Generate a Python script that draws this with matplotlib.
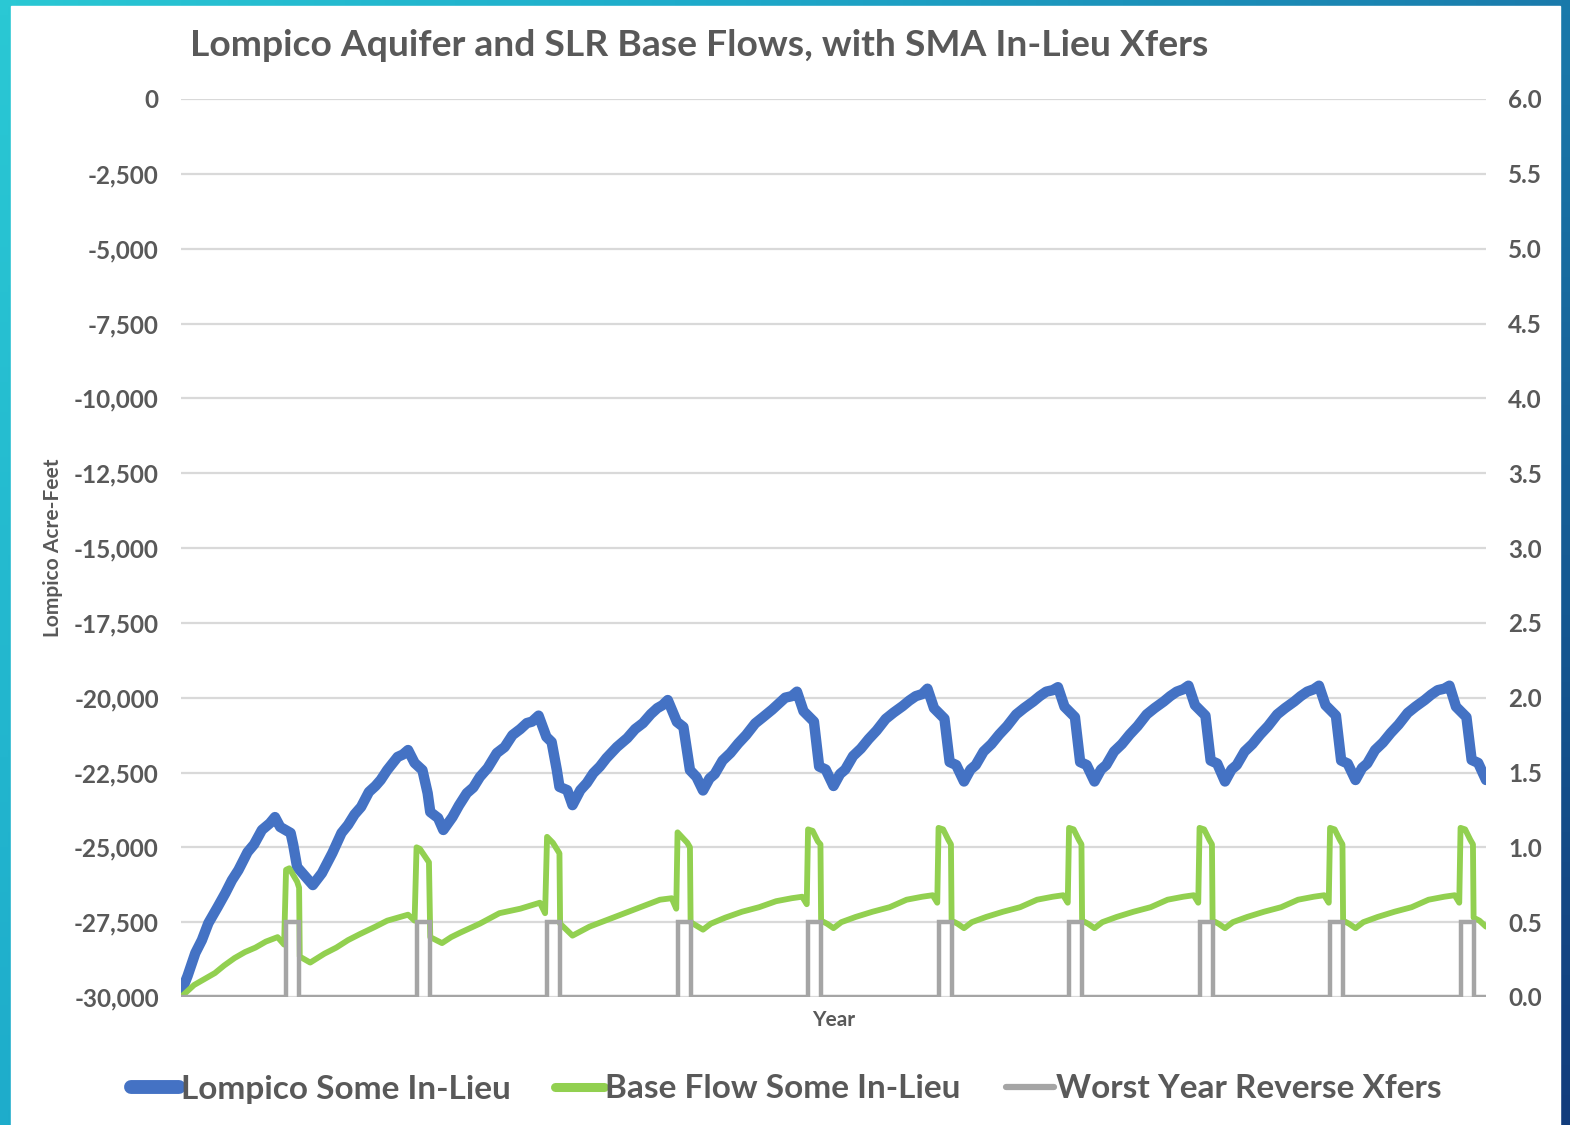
import numpy as np
import matplotlib
matplotlib.use("Agg")
import matplotlib.pyplot as plt
from matplotlib.colors import LinearSegmentedColormap
from matplotlib.patches import Rectangle
from matplotlib.ticker import FuncFormatter, MultipleLocator

# Lompico aquifer storage (acre-feet), vertices in years from start
blue_t = [0.00, 0.05, 0.11, 0.16, 0.21, 0.28, 0.34, 0.39, 0.44, 0.51, 0.56, 0.62, 0.68, 0.72,
          0.76, 0.84, 0.86, 0.89, 0.93, 1.01,
          1.08, 1.16, 1.23, 1.28, 1.33, 1.38, 1.44, 1.49, 1.53, 1.58, 1.62, 1.66, 1.70, 1.74,
          1.79, 1.85, 1.89, 1.91, 1.97, 2.01,
          2.08, 2.13, 2.19, 2.24, 2.29, 2.35, 2.42, 2.48, 2.54, 2.60, 2.65, 2.69, 2.74,
          2.80, 2.84, 2.88, 2.90, 2.96, 3.00,
          3.06, 3.11, 3.16, 3.21, 3.26, 3.34, 3.42, 3.48, 3.54, 3.60, 3.65, 3.69, 3.73,
          3.80, 3.85, 3.90, 3.95, 4.00,
          4.05, 4.09, 4.15, 4.21, 4.27, 4.33, 4.40, 4.46, 4.53, 4.58, 4.63, 4.68, 4.72,
          4.77, 4.85, 4.89, 4.94, 5.00,
          5.05, 5.09, 5.15, 5.21, 5.27, 5.33, 5.40, 5.46, 5.53, 5.58, 5.63, 5.68, 5.72,
          5.77, 5.85, 5.89, 5.94, 6.00,
          6.05, 6.09, 6.15, 6.21, 6.27, 6.33, 6.40, 6.46, 6.53, 6.58, 6.63, 6.68, 6.72,
          6.77, 6.85, 6.89, 6.94, 7.00,
          7.05, 7.09, 7.15, 7.21, 7.27, 7.33, 7.40, 7.46, 7.53, 7.58, 7.63, 7.68, 7.72,
          7.77, 7.85, 7.89, 7.94, 8.00,
          8.05, 8.09, 8.15, 8.21, 8.27, 8.33, 8.40, 8.46, 8.53, 8.58, 8.63, 8.68, 8.72,
          8.77, 8.85, 8.89, 8.94, 9.00,
          9.05, 9.09, 9.15, 9.21, 9.27, 9.33, 9.40, 9.46, 9.53, 9.58, 9.63, 9.68, 9.72,
          9.77, 9.85, 9.89, 9.94, 10.00]
blue_v = [-29850, -29300, -28530, -28100, -27530, -27000, -26530, -26100, -25760, -25160, -24900, -24420, -24200, -23990,
          -24320, -24520, -24920, -25660, -25860, -26260,
          -25860, -25190, -24520, -24250, -23900, -23650, -23150, -22950, -22750, -22420, -22200, -21980, -21900, -21750,
          -22180, -22420, -23190, -23820, -24020, -24420,
          -23990, -23600, -23190, -23000, -22650, -22350, -21850, -21650, -21250, -21050, -20850, -20800, -20600,
          -21310, -21480, -22420, -22980, -23090, -23590,
          -23090, -22850, -22520, -22300, -22020, -21650, -21350, -21050, -20850, -20550, -20350, -20250, -20080,
          -20810, -20980, -22420, -22650, -23100,
          -22700, -22550, -22100, -21850, -21530, -21250, -20860, -20650, -20400, -20200, -20000, -19950, -19800,
          -20450, -20800, -22300, -22400, -22950,
          -22550, -22400, -21950, -21700, -21380, -21100, -20710, -20500, -20280, -20100, -19950, -19880, -19700,
          -20350, -20700, -22150, -22250, -22800,
          -22400, -22250, -21800, -21550, -21230, -20950, -20560, -20350, -20130, -19950, -19800, -19750, -19650,
          -20300, -20650, -22150, -22250, -22800,
          -22400, -22250, -21800, -21550, -21230, -20950, -20560, -20350, -20130, -19950, -19800, -19720, -19600,
          -20250, -20600, -22100, -22200, -22800,
          -22400, -22250, -21800, -21550, -21230, -20950, -20560, -20350, -20130, -19950, -19800, -19720, -19600,
          -20250, -20600, -22100, -22200, -22750,
          -22350, -22200, -21750, -21500, -21180, -20900, -20510, -20300, -20080, -19900, -19750, -19700, -19600,
          -20300, -20650, -22080, -22180, -22750]

# SLR base flow (secondary axis)
green_t = [0.00, 0.05, 0.10, 0.18, 0.26, 0.33, 0.41, 0.49, 0.57, 0.65, 0.74, 0.79, 0.805, 0.83, 0.89, 0.905,
           0.91, 0.99, 1.10, 1.19, 1.28, 1.37, 1.49, 1.58, 1.66, 1.74, 1.79, 1.805, 1.83, 1.90,
           1.91, 2.00, 2.07, 2.14, 2.29, 2.44, 2.60, 2.75, 2.79, 2.805, 2.85, 2.90,
           2.905, 3.00, 3.13, 3.31, 3.52, 3.67, 3.76, 3.795, 3.805, 3.88, 3.90,
           3.905, 4.00, 4.06, 4.17, 4.30, 4.43, 4.56, 4.68, 4.76, 4.795, 4.805, 4.84, 4.88, 4.90,
           4.905, 4.95, 5.00, 5.06, 5.17, 5.30, 5.43, 5.56, 5.68, 5.76, 5.795, 5.805, 5.84, 5.88, 5.90,
           5.905, 5.95, 6.00, 6.06, 6.17, 6.30, 6.43, 6.56, 6.68, 6.76, 6.795, 6.805, 6.84, 6.88, 6.90,
           6.905, 6.95, 7.00, 7.06, 7.17, 7.30, 7.43, 7.56, 7.68, 7.76, 7.795, 7.805, 7.84, 7.88, 7.90,
           7.905, 7.95, 8.00, 8.06, 8.17, 8.30, 8.43, 8.56, 8.68, 8.76, 8.795, 8.805, 8.84, 8.88, 8.90,
           8.905, 8.95, 9.00, 9.06, 9.17, 9.30, 9.43, 9.56, 9.68, 9.76, 9.795, 9.805, 9.84, 9.88, 9.90,
           9.905, 9.95, 10.00]
green_v = [0.00, 0.04, 0.08, 0.12, 0.16, 0.21, 0.26, 0.30, 0.33, 0.37, 0.40, 0.35, 0.85, 0.86, 0.77, 0.73,
           0.27, 0.23, 0.29, 0.33, 0.38, 0.42, 0.47, 0.51, 0.53, 0.55, 0.51, 1.00, 0.99, 0.90,
           0.40, 0.36, 0.40, 0.43, 0.49, 0.56, 0.59, 0.63, 0.56, 1.07, 1.03, 0.96,
           0.49, 0.41, 0.47, 0.53, 0.60, 0.65, 0.66, 0.59, 1.10, 1.03, 1.00,
           0.50, 0.45, 0.49, 0.53, 0.57, 0.60, 0.64, 0.66, 0.67, 0.62, 1.12, 1.11, 1.04, 1.02,
           0.51, 0.49, 0.46, 0.50, 0.535, 0.57, 0.60, 0.65, 0.67, 0.68, 0.63, 1.13, 1.12, 1.05, 1.02,
           0.51, 0.49, 0.46, 0.50, 0.535, 0.57, 0.60, 0.65, 0.67, 0.68, 0.63, 1.13, 1.12, 1.05, 1.02,
           0.51, 0.49, 0.46, 0.50, 0.535, 0.57, 0.60, 0.65, 0.67, 0.68, 0.63, 1.13, 1.12, 1.05, 1.02,
           0.51, 0.49, 0.46, 0.50, 0.535, 0.57, 0.60, 0.65, 0.67, 0.68, 0.63, 1.13, 1.12, 1.05, 1.02,
           0.51, 0.49, 0.46, 0.50, 0.535, 0.57, 0.60, 0.65, 0.67, 0.68, 0.63, 1.13, 1.12, 1.05, 1.02,
           0.53, 0.51, 0.47]

# worst-year reverse transfers: on/off times (years) and level
xfer_on = [0.805, 1.805, 2.805, 3.805, 4.805, 5.805, 6.805, 7.805, 8.805, 9.805]
xfer_off = [0.905, 1.905, 2.905, 3.905, 4.905, 5.905, 6.905, 7.905, 8.905, 9.905]
xfer_level = 0.5
n_years = 10

labels = ["Lompico Some In-Lieu", "Base Flow Some In-Lieu", "Worst Year Reverse Xfers"]
title = "Lompico Aquifer and SLR Base Flows, with SMA In-Lieu Xfers"

BLUE = "#4472C4"
GREEN = "#92D050"
GRAY = "#A5A5A5"
TXT = "#595959"
GRID = "#D9D9D9"
FONT = "Lato"

# step series for the transfers
xfer_t = [0.0]
xfer_v = [0.0]
for on, off in zip(xfer_on, xfer_off):
    xfer_t += [on, on, off, off]
    xfer_v += [0.0, xfer_level, xfer_level, 0.0]
xfer_t.append(n_years)
xfer_v.append(0.0)

W, H = 1570, 1125
fig = plt.figure(figsize=(W / 100, H / 100), dpi=100)

# gradient frame behind the white card
bg = fig.add_axes([0, 0, 1, 1], zorder=-10)
cmap = LinearSegmentedColormap.from_list(
    "frame", [(0, "#2ac8d4"), (0.3, "#1eaccb"), (0.7, "#1a7aab"), (1.0, "#123c7c")])
gx, gy = np.meshgrid(np.linspace(0, 1, 200), np.linspace(0, 1, 150))
bg.imshow(0.7 * gx + 0.3 * gy, cmap=cmap, extent=[0, 1, 0, 1], origin="upper", aspect="auto")
bg.add_patch(Rectangle((11 / W, 0), (1560 - 11) / W, 1 - 6 / H, color="white"))
bg.set_xlim(0, 1)
bg.set_ylim(0, 1)
bg.axis("off")

left, right, top, bottom = 181, 1486, 99, 997
ax = fig.add_axes([left / W, 1 - bottom / H, (right - left) / W, (bottom - top) / H])
ax2 = ax.twinx()

ax.set_facecolor("none")
for a in (ax, ax2):
    for s in a.spines.values():
        s.set_visible(False)
    a.tick_params(length=0, labelsize=17.5, labelcolor=TXT, pad=16)

ax.set_xlim(0, n_years)
ax.set_ylim(-30000, 0)
ax.yaxis.set_major_locator(MultipleLocator(2500))
ax.yaxis.set_major_formatter(FuncFormatter(lambda v, p: f"{v:,.0f}"))
ax.grid(axis="y", color=GRID, lw=1.6)
ax.set_axisbelow(True)
ax.set_xticks([])

ax2.set_ylim(0, 6)
ax2.yaxis.set_major_locator(MultipleLocator(0.5))
ax2.yaxis.set_major_formatter(FuncFormatter(lambda v, p: f"{v:.1f}"))

for a in (ax, ax2):
    for lab in a.get_yticklabels():
        lab.set_fontweight("bold")
        lab.set_family(FONT)

l1, = ax.plot(blue_t, blue_v, color=BLUE, lw=7.5, solid_joinstyle="round", solid_capstyle="round")
l2, = ax2.plot(green_t, green_v, color=GREEN, lw=4.2, solid_joinstyle="round", solid_capstyle="round")
l3, = ax2.plot(xfer_t, xfer_v, color=GRAY, lw=3.2, solid_joinstyle="miter")

ax.set_ylabel("Lompico Acre-Feet", fontsize=15, color=TXT, fontweight="bold", family=FONT, labelpad=8)
ax.set_xlabel("Year", fontsize=15, color=TXT, fontweight="bold", family=FONT, labelpad=9)

fig.text(190 / W, 1 - 46 / H, title, ha="left", va="center", fontsize=26.8,
         fontweight="bold", color=TXT, family=FONT)

leg = fig.legend([l1, l2, l3], labels, loc="center", bbox_to_anchor=(786 / W, 1 - 1089 / H),
                 ncol=3, frameon=False, handlelength=1.45, handletextpad=0.05, columnspacing=1.35,
                 prop={"family": FONT, "weight": "bold", "size": 24})
for t in leg.get_texts():
    t.set_color(TXT)
for h, w in zip(leg.legend_handles, (10, 6.5, 4.5)):
    h.set_linewidth(w)
    h.set_solid_capstyle("round")

fig.savefig("out.png", dpi=100)
